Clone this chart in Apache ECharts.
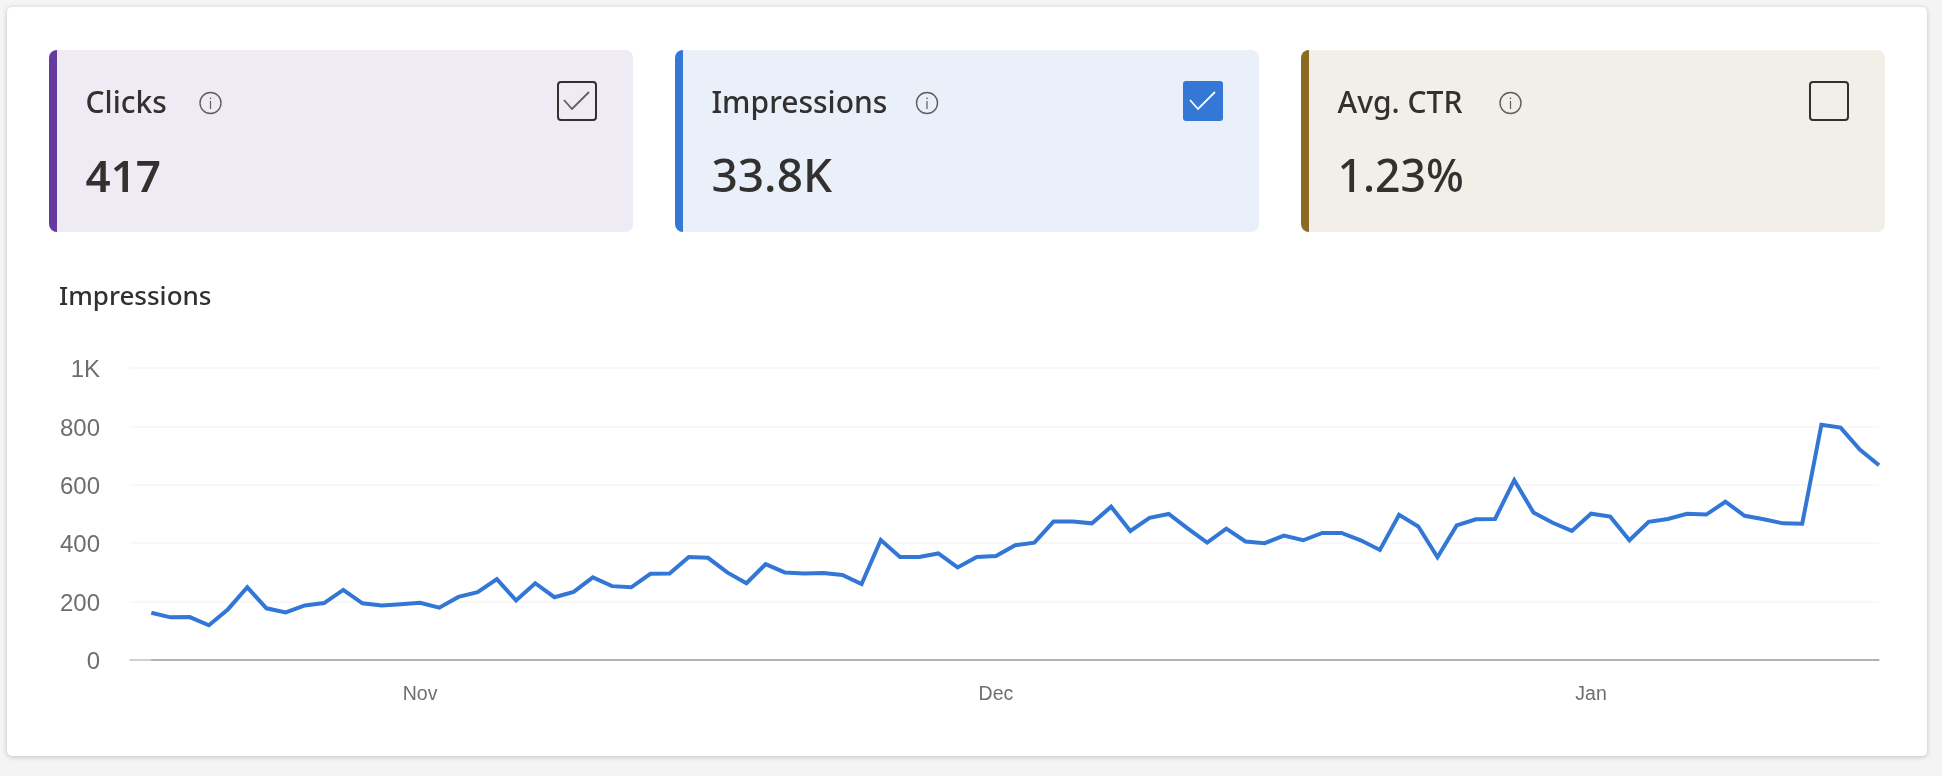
<!DOCTYPE html>
<html>
<head>
<meta charset="utf-8">
<style>html,body{margin:0;padding:0;background:#f4f4f4}#c{width:1942px;height:776px}</style>
<script src="https://cdn.jsdelivr.net/npm/echarts@6/dist/echarts.min.js"></script>
</head>
<body>
<div id="c"></div>
<script>
const chartTitle = 'Impressions';
const metricNames = ['Clicks', 'Impressions', 'Avg. CTR'];
const metricValues = ['417', '33.8K', '1.23%'];
const metricChecked = [true, true, false];
const yTicks = [0, 200, 400, 600, 800, 1000];
const yTickLabels = ['0', '200', '400', '600', '800', '1K'];
const monthTicks = ['2023-11-01', '2023-12-01', '2024-01-01'];
const monthLabels = ['Nov', 'Dec', 'Jan'];
const dates = [
 '2023-10-18','2023-10-19','2023-10-20','2023-10-21','2023-10-22','2023-10-23','2023-10-24','2023-10-25','2023-10-26','2023-10-27','2023-10-28','2023-10-29','2023-10-30','2023-10-31',
 '2023-11-01','2023-11-02','2023-11-03','2023-11-04','2023-11-05','2023-11-06','2023-11-07','2023-11-08','2023-11-09','2023-11-10','2023-11-11','2023-11-12','2023-11-13','2023-11-14','2023-11-15','2023-11-16','2023-11-17','2023-11-18','2023-11-19','2023-11-20','2023-11-21','2023-11-22','2023-11-23','2023-11-24','2023-11-25','2023-11-26','2023-11-27','2023-11-28','2023-11-29','2023-11-30',
 '2023-12-01','2023-12-02','2023-12-03','2023-12-04','2023-12-05','2023-12-06','2023-12-07','2023-12-08','2023-12-09','2023-12-10','2023-12-11','2023-12-12','2023-12-13','2023-12-14','2023-12-15','2023-12-16','2023-12-17','2023-12-18','2023-12-19','2023-12-20','2023-12-21','2023-12-22','2023-12-23','2023-12-24','2023-12-25','2023-12-26','2023-12-27','2023-12-28','2023-12-29','2023-12-30','2023-12-31',
 '2024-01-01','2024-01-02','2024-01-03','2024-01-04','2024-01-05','2024-01-06','2024-01-07','2024-01-08','2024-01-09','2024-01-10','2024-01-11','2024-01-12','2024-01-13','2024-01-14','2024-01-15','2024-01-16'
];
const impressions = [
 162,146,147,119,174,249,177,163,187,195,240,194,187,191,
 196,179,216,232,277,204,263,215,233,283,253,249,295,296,353,350,300,263,328,300,296,298,291,260,411,353,353,365,317,353,
 356,393,402,474,474,468,525,442,487,500,450,402,450,406,400,426,410,435,435,410,377,497,457,352,461,482,483,616,505,470,442,
 501,491,410,473,483,501,498,542,494,482,468,467,806,796,721,667
];

/* layout and style, separate from the data */
const cardStyle = [
  {x: 49,   bg: '#eeebf4', accent: '#643ca0', infoDx: 161.5},
  {x: 675,  bg: '#e9f0fa', accent: '#3577d4', infoDx: 252},
  {x: 1301, bg: '#f2efe8', accent: '#8a6a25', infoDx: 209.5}
];
const valueWeight = [600, 500, 500];
const valueSize = [44, 46, 44.5];
const uiFont = '"Noto Sans","Open Sans",sans-serif';
const axisFont = '"Liberation Sans",Arial,sans-serif';
const ink = '#323130';
const cardW = 584, cardH = 182, cardTop = 50;
const DAY = 86400000;
const ts = s => Date.parse(s + 'T00:00:00Z');

const g = [];
g.push({type:'rect', z:-10, silent:true, shape:{x:7,y:7,width:1920,height:749,r:5},
  style:{fill:'#fff', shadowBlur:5, shadowColor:'rgba(0,0,0,0.22)', shadowOffsetY:1}});

metricNames.forEach((name, i) => {
  const c = cardStyle[i];
  g.push({type:'rect', silent:true, shape:{x:c.x,y:cardTop,width:cardW,height:cardH,r:8}, style:{fill:c.bg}});
  g.push({type:'rect', silent:true, shape:{x:c.x,y:cardTop,width:8,height:cardH,r:[8,0,0,8]}, style:{fill:c.accent}});
  g.push({type:'text', silent:true, x:c.x+36.5, y:104, style:{text:name, fill:ink, font:`500 30px ${uiFont}`, verticalAlign:'middle', align:'left'}});
  g.push({type:'text', silent:true, x:c.x+36.5, y:179, style:{text:metricValues[i], fill:ink, font:`${valueWeight[i]} ${valueSize[i]}px ${uiFont}`, verticalAlign:'middle', align:'left'}});
  // info icon
  g.push({type:'circle', silent:true, shape:{cx:c.x+c.infoDx,cy:103,r:10.5}, style:{fill:'none',stroke:'#605e5c',lineWidth:1.4}});
  g.push({type:'rect', silent:true, shape:{x:c.x+c.infoDx-0.6,y:101,width:1.2,height:8}, style:{fill:'#605e5c'}});
  g.push({type:'rect', silent:true, shape:{x:c.x+c.infoDx-0.6,y:97.6,width:1.2,height:1.6}, style:{fill:'#605e5c'}});
  // checkbox
  const bx = c.x+508, by = 81;
  const solid = i === 1;
  g.push({type:'rect', silent:true, shape:solid ? {x:bx,y:by,width:40,height:40,r:3} : {x:bx+1,y:by+1,width:38,height:38,r:3},
    style: solid ? {fill:'#3577d4'} : {fill:'none', stroke:ink, lineWidth:2}});
  if (metricChecked[i]) {
    g.push({type:'polyline', silent:true, shape:{points:[[bx+7,by+19],[bx+15,by+28],[bx+32,by+11]]},
      style:{fill:'none', stroke: solid ? '#fff' : '#605e5c', lineWidth:1.8}});
  }
});

const firstT = ts(dates[0]), lastT = ts(dates[dates.length-1]);
const monthTs = monthTicks.map(ts);
const chart = echarts.init(document.getElementById('c'), null, {renderer:'canvas'});
chart.setOption({
  animation:false,
  backgroundColor:'#f4f4f4',
  title:{text:chartTitle, left:59, top:285, padding:0,
    textStyle:{fontFamily:uiFont, fontSize:26, fontWeight:500, color:ink}},
  graphic:g,
  grid:{left:130, right:63, top:368, bottom:116, containLabel:false},
  tooltip:{show:false},
  xAxis:{
    type:'value',
    min:firstT-1.11*DAY, max:lastT,
    axisLine:{show:true, onZero:false, lineStyle:{color:'#c4c4c4', width:1.5}},
    axisTick:{show:false},
    splitLine:{show:false},
    axisLabel:{
      customValues:monthTs,
      margin:25, fontFamily:axisFont, fontSize:19.5, color:'#6e6e6e',
      formatter:v => monthLabels[monthTs.indexOf(+v)] || ''
    }
  },
  yAxis:{
    type:'value', min:0, max:1000, interval:200,
    axisLine:{show:false}, axisTick:{show:false},
    splitLine:{lineStyle:{color:'#f6f6f6', width:1.5}},
    axisLabel:{margin:30,
      formatter:v => '{t|' + yTickLabels[yTicks.indexOf(v)] + '}',
      rich:{t:{fontFamily:axisFont, fontSize:24, color:'#6e6e6e', padding:[5,0,0,0]}}}
  },
  series:[{
    type:'line', name:chartTitle, showSymbol:false, smooth:false,
    data:dates.map((d,i)=>[ts(d), impressions[i]]),
    lineStyle:{color:'#3277d5', width:4, join:'miter', cap:'butt'},
    itemStyle:{color:'#3277d5'},
    markLine:{silent:true, symbol:'none', animation:false, label:{show:false},
      lineStyle:{type:'solid', color:'#a6a6a6', width:1.5},
      data:[[{coord:[firstT,0]},{coord:[lastT,0]}]]},
    z:5
  }]
});
</script>
</body>
</html>
